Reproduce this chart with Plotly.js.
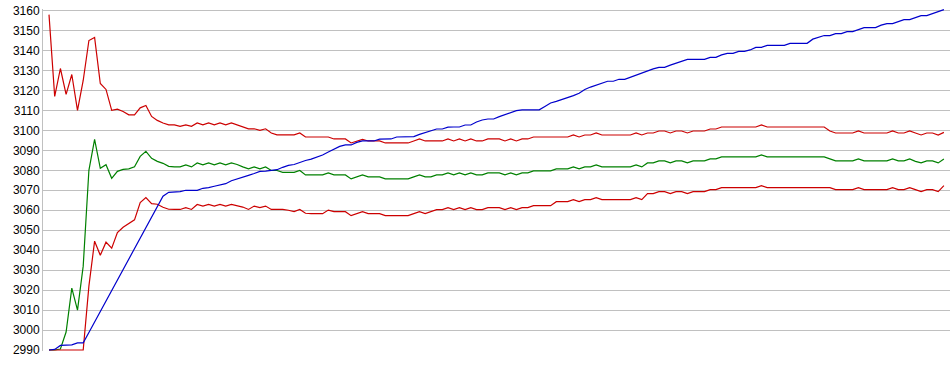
<!DOCTYPE html>
<html>
<head>
<meta charset="utf-8">
<script src="https://cdn.plot.ly/plotly-3.0.1.min.js"></script>
<style>html,body{margin:0;padding:0;background:#fff;}#chart{width:950px;height:375px;}</style>
</head>
<body>
<div id="chart"></div>
<script>
const yTicks = [2990,3000,3010,3020,3030,3040,3050,3060,3070,3080,3090,3100,3110,3120,3130,3140,3150,3160];

const blueSeries = [
2990,2990.3,2992.3,2992.4,2992.6,2993.6,2993.6,2998.8,3004,3009.3,
3014.5,3019.8,3025,3030.3,3035.5,3040.8,3046,3051.3,3056.6,3061.8,
3067,3069,3069.2,3069.3,3070,3070,3070,3071,3071.3,3072,
3072.7,3073.3,3074.8,3075.8,3076.6,3077.5,3078.4,3079.5,3079.6,3079.8,
3080.3,3081.5,3082.5,3082.9,3084.1,3084.9,3085.6,3086.5,3087.7,3089.2,
3090.8,3092,3092.7,3092.7,3094,3094.7,3094.7,3094.7,3095.6,3095.7,
3095.7,3096.7,3096.7,3096.7,3096.9,3098,3099,3099.9,3100.7,3100.7,
3101.6,3101.7,3101.7,3102.7,3102.7,3104.2,3105.2,3105.7,3105.7,3106.9,
3108,3109.1,3109.9,3110.3,3110.3,3110.3,3110.3,3112,3113.7,3114.5,
3115.4,3116.5,3117.4,3118.6,3120.5,3121.7,3122.7,3123.7,3124.6,3124.6,
3125.6,3125.6,3126.7,3127.8,3128.8,3129.8,3130.8,3131.6,3131.6,3132.7,
3133.8,3134.7,3135.6,3135.6,3135.6,3135.6,3136.6,3136.6,3137.8,3138.6,
3138.6,3139.6,3139.6,3140.3,3141.6,3141.6,3142.6,3142.6,3142.6,3142.6,
3143.6,3143.6,3143.6,3143.6,3145.7,3146.5,3147.5,3147.5,3148.5,3148.5,
3149.5,3149.5,3150.5,3151.5,3151.5,3151.5,3152.7,3153.5,3153.5,3154.5,
3155.5,3155.5,3156.6,3157.5,3157.5,3158.6,3159.5,3160.5
];

const upperBand = [
3158,3117,3131,3118,3128,3110,3125,3145,3146.5,3123.5,
3120.5,3110,3110.6,3109.5,3107.8,3107.8,3111.3,3112.5,3107,3105,
3103.7,3102.8,3102.8,3102,3102.8,3102,3103.7,3102.8,3103.7,3102.8,
3103.7,3102.8,3103.7,3102.8,3102,3100.8,3100.8,3100,3100.8,3098.7,
3097.8,3097.8,3097.8,3097.8,3098.7,3096.7,3096.7,3096.7,3096.7,3096.7,
3095.7,3095.7,3095.7,3093.7,3094.7,3095.5,3094.7,3094.7,3094.7,3093.7,
3093.7,3093.7,3093.7,3093.7,3094.7,3095.7,3094.7,3094.7,3094.7,3094.7,
3095.7,3094.7,3095.7,3094.7,3095.7,3094.7,3094.7,3095.7,3095.7,3095.7,
3094.7,3095.7,3094.7,3095.7,3095.7,3096.7,3096.7,3096.7,3096.7,3096.7,
3096.7,3096.7,3097.7,3096.7,3097.7,3097.7,3098.7,3097.7,3097.7,3097.7,
3097.7,3097.7,3097.7,3098.7,3097.7,3098.7,3098.7,3099.7,3099.7,3098.7,
3099.7,3099.7,3098.7,3099.7,3099.7,3099.7,3100.7,3100.7,3101.7,3101.7,
3101.7,3101.7,3101.7,3101.7,3101.7,3102.7,3101.7,3101.7,3101.7,3101.7,
3101.7,3101.7,3101.7,3101.7,3101.7,3101.7,3101.7,3099.7,3098.7,3098.7,
3098.7,3098.7,3099.7,3098.7,3098.7,3098.7,3098.7,3098.7,3099.7,3098.7,
3098.7,3099.7,3098.7,3097.7,3098.7,3098.7,3097.7,3099
];

const middleBand = [
2990,2990,2990.5,2999,3021,3010,3032,3080,3095.5,3081,
3082.8,3076,3079.5,3080.5,3080.7,3081.8,3087,3089.5,3086,3084.5,
3083.5,3082,3081.7,3081.7,3082.7,3081.7,3083.7,3082.7,3083.7,3082.7,
3083.7,3082.7,3083.7,3082.9,3081.7,3080.7,3081.7,3080.7,3081.7,3079.9,
3079.9,3079,3079,3079,3079.9,3077.7,3077.7,3077.7,3077.7,3078.7,
3077.7,3077.7,3077.7,3075.7,3076.7,3077.7,3076.7,3076.7,3076.7,3075.7,
3075.7,3075.7,3075.7,3075.7,3076.7,3077.7,3076.7,3076.7,3077.7,3077.7,
3078.7,3077.7,3078.7,3077.7,3078.7,3077.7,3077.7,3078.7,3078.7,3078.7,
3077.7,3078.7,3077.7,3078.7,3078.7,3079.7,3079.7,3079.7,3079.7,3080.7,
3080.7,3080.7,3081.7,3080.7,3081.7,3081.7,3082.7,3081.7,3081.7,3081.7,
3081.7,3081.7,3081.7,3082.7,3081.7,3083.7,3083.7,3084.7,3084.7,3083.7,
3084.7,3084.7,3083.7,3084.7,3084.7,3084.7,3085.7,3085.7,3086.7,3086.7,
3086.7,3086.7,3086.7,3086.7,3086.7,3087.7,3086.7,3086.7,3086.7,3086.7,
3086.7,3086.7,3086.7,3086.7,3086.7,3086.7,3086.7,3085.7,3084.7,3084.7,
3084.7,3084.7,3085.7,3084.7,3084.7,3084.7,3084.7,3084.7,3085.7,3084.7,
3084.7,3085.7,3084.5,3083.7,3084.7,3084.7,3083.7,3085.7
];

const lowerBand = [
2990,2990,2990,2990,2990,2990,2990,3022,3044.5,3037.5,
3044,3041,3048.8,3051.5,3053.5,3055.2,3063.8,3066.3,3063.3,3063,
3061.5,3060.5,3060.4,3060.4,3061.3,3060.4,3062.9,3062.1,3062.9,3062.1,
3062.9,3062.1,3062.9,3062.1,3061.6,3060.4,3062.1,3061.3,3062.1,3060.4,
3060.4,3060.4,3060,3059.3,3060.4,3058.5,3058.3,3058.3,3058.3,3060.1,
3059.3,3059.3,3059.3,3057.3,3058.3,3059.3,3058.3,3058.3,3058.3,3057.3,
3057.3,3057.3,3057.3,3057.3,3058.3,3059.3,3058.3,3059.3,3060.3,3060.3,
3061.3,3060.3,3061.3,3060.3,3061.3,3060.3,3060.3,3061.3,3061.3,3061.3,
3060.3,3061.3,3060.3,3061.3,3061.3,3062.3,3062.3,3062.3,3062.3,3064.3,
3064.3,3064.3,3065.3,3064.3,3065.3,3065.3,3066.3,3065.3,3065.3,3065.3,
3065.3,3065.3,3065.3,3066.3,3065.3,3068.3,3068.3,3069.3,3069.3,3068.3,
3069.3,3069.3,3068.3,3069.3,3069.3,3069.3,3070.3,3070.3,3071.3,3071.3,
3071.3,3071.3,3071.3,3071.3,3071.3,3072.3,3071.3,3071.3,3071.3,3071.3,
3071.3,3071.3,3071.3,3071.3,3071.3,3071.3,3071.3,3071.3,3070.3,3070.3,
3070.3,3070.3,3071.3,3070.3,3070.3,3070.3,3070.3,3070.3,3071.3,3070.3,
3070.3,3071.3,3070.3,3069.3,3070.3,3070.3,3069.3,3072.3
];

const xIndex = blueSeries.map((_, i) => i);

function lineTrace(y, color) {
  return { x: xIndex, y: y, type: 'scatter', mode: 'lines',
           line: { color: color, width: 1.2 }, hoverinfo: 'skip' };
}

const data = [
  lineTrace(upperBand, '#cc0000'),
  lineTrace(middleBand, '#008000'),
  lineTrace(lowerBand, '#cc0000'),
  lineTrace(blueSeries, '#0000cc')
];

const layout = {
  width: 950, height: 375,
  margin: { l: 43, r: 0, t: 9, b: 24, pad: 0 },
  paper_bgcolor: '#ffffff', plot_bgcolor: '#ffffff',
  showlegend: false,
  xaxis: { range: [-1.053, 158.07], showgrid: false, zeroline: false,
           showticklabels: false, showline: false, ticks: '', fixedrange: true },
  yaxis: { range: [2989.5, 3160.8], tickvals: yTicks, ticktext: yTicks.map(String),
           showgrid: true, gridcolor: '#c0c0c0', gridwidth: 1, zeroline: false,
           showline: true, linecolor: '#c0c0c0', linewidth: 1, ticks: '',
           tickfont: { family: 'Liberation Sans, Arial, sans-serif', size: 12, color: '#000000' },
           fixedrange: true }
};

Plotly.newPlot('chart', data, layout, { displayModeBar: false, staticPlot: true });
</script>
</body>
</html>
